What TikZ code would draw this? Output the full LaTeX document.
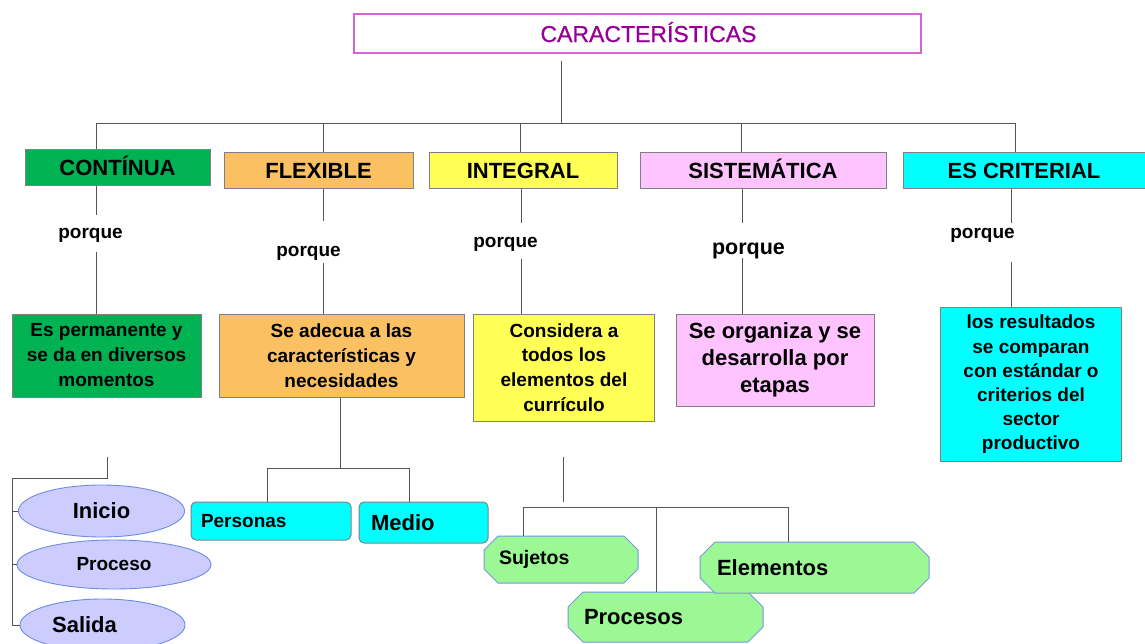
\documentclass[tikz,border=0pt]{standalone}
\usepackage{fontspec}
\setmainfont{Liberation Sans}
\newfontfamily\titlefont[FakeBold=0.7]{Liberation Sans}
\usetikzlibrary{shapes.geometric}
\definecolor{cgreen}{RGB}{0,178,82}
\definecolor{corange}{RGB}{250,192,98}
\definecolor{cyellow}{RGB}{255,255,85}
\definecolor{cpink}{RGB}{255,196,255}
\definecolor{ccyan}{RGB}{0,255,255}
\definecolor{cviolet}{RGB}{204,204,255}
\definecolor{cvioletline}{RGB}{110,140,225}
\definecolor{clgreen}{RGB}{155,248,148}
\definecolor{coctline}{RGB}{120,150,230}
\definecolor{ctitle}{RGB}{150,0,150}
\definecolor{ctitleline}{RGB}{215,100,215}
\definecolor{cline}{RGB}{85,85,85}
\newcommand\octshape[5]{%
  \filldraw[oct] ({#1-#3/2+#5},{#2-#4/2}) -- ({#1+#3/2-#5},{#2-#4/2}) --
  ({#1+#3/2},{#2-#4/2+#5}) -- ({#1+#3/2},{#2+#4/2-#5}) --
  ({#1+#3/2-#5},{#2+#4/2}) -- ({#1-#3/2+#5},{#2+#4/2}) --
  ({#1-#3/2},{#2+#4/2-#5}) -- ({#1-#3/2},{#2-#4/2+#5}) -- cycle;}
\begin{document}
\begin{tikzpicture}[x=1pt,y=-1pt,
  conn/.style={draw=cline, line width=1pt},
  boxbase/.style={draw=black!50, line width=1pt, inner sep=0pt, align=center},
  head/.style={boxbase, minimum height=36pt, text height=16pt, text depth=0pt,
    font=\bfseries\fontsize{22}{26}\selectfont},
  desc/.style={boxbase, font=\bfseries\fontsize{19}{25}\selectfont},
  why/.style={inner sep=0pt, anchor=base, font=\bfseries\fontsize{19}{22}\selectfont},
  ell/.style={ellipse, draw=cvioletline, fill=cviolet, line width=0.9pt, inner sep=0pt},
  rbox/.style={draw=black!50, fill=ccyan, line width=1pt, rounded corners=5pt, inner ysep=0pt, align=left},
  oct/.style={draw=coctline, fill=clgreen, line width=1pt},
  octtext/.style={inner ysep=0pt, align=left, font=\bfseries\fontsize{22}{26}\selectfont}
]
\useasboundingbox (0,0) rectangle (1145,643);
\clip (0,0) rectangle (1145,643);
\fill[white] (0,0) rectangle (1145,643);

% title
\node[draw=ctitleline, line width=1.2pt, minimum width=567pt, minimum height=39pt,
  inner sep=0pt, text height=17pt, text depth=0pt, text=ctitle,
  font=\titlefont\fontsize{23}{23}\selectfont] (title) at (637.5,33.5)
  {\hspace*{22pt}CARACTERÍSTICAS};

% headings
\node[head, fill=cgreen, minimum width=185pt] (h1) at (117.5,167) {CONTÍNUA};
\node[head, fill=corange, minimum width=189pt] (h2) at (318.5,170) {FLEXIBLE};
\node[head, fill=cyellow, minimum width=188pt] (h3) at (523,170) {INTEGRAL};
\node[head, fill=cpink, minimum width=246pt] (h4) at (763,170) {SISTEMÁTICA};
\node[head, fill=ccyan, minimum width=242pt] (h5) at (1024,170) {ES CRITERIAL};

% bus
\coordinate (tj) at (561,123);
\coordinate (d1) at (96,123);
\coordinate (d2) at (323,123);
\coordinate (d3) at (520,123);
\coordinate (d4) at (741,123);
\coordinate (d5) at (1015,123);
\draw[conn, shorten <=7pt] (tj |- title.south) -- (tj);
\draw[conn] (d1) -- (d5);
\draw[conn] (d1) -- (d1 |- h1.north);
\draw[conn] (d2) -- (d2 |- h2.north);
\draw[conn] (d3) -- (d3 |- h3.north);
\draw[conn] (d4) -- (d4 |- h4.north);
\draw[conn] (d5) -- (d5 |- h5.north);

% porque
\node[why] (p1) at (90.5,238) {porque};
\node[why] (p2) at (308.5,256) {porque};
\node[why] (p3) at (505.5,247) {porque};
\node[why, font=\bfseries\fontsize{21.5}{24}\selectfont] (p4) at (748.5,254.5) {porque};
\node[why] (p5) at (982.5,238) {porque};

% second row
\node[desc, fill=cgreen, minimum width=189pt, minimum height=83pt] (e1) at (106.5,355.5)
  {Es permanente y\\se da en diversos\\momentos};
\node[desc, fill=corange, minimum width=245pt, minimum height=83pt] (e2) at (341.5,355.5)
  {Se adecua a las\\características y\\necesidades};
\node[desc, fill=cyellow, minimum width=181pt, minimum height=107pt,
  font=\bfseries\fontsize{19}{24.7}\selectfont] (e3) at (564,367.5)
  {Considera a\\todos los\\elementos del\\currículo};
\node[desc, fill=cpink, minimum width=198pt, minimum height=92pt,
  font=\bfseries\fontsize{22}{27}\selectfont] (e4) at (775,360)
  {Se organiza y se\\desarrolla por\\etapas};
\node[desc, fill=ccyan, minimum width=181pt, minimum height=154pt,
  font=\bfseries\fontsize{19}{24.2}\selectfont] (e5) at (1031,384.5)
  {los resultados\\se comparan\\con estándar o\\criterios del\\sector\\productivo};

% porque connectors
\coordinate (a1) at (96,215);  \coordinate (b1) at (96,252);
\coordinate (a2) at (323,221); \coordinate (b2) at (323,263);
\coordinate (a3) at (521,223); \coordinate (b3) at (521,259);
\coordinate (a4) at (742,223); \coordinate (b4) at (742,258);
\coordinate (a5) at (1011,223); \coordinate (b5) at (1011,262);
\draw[conn] (a1 |- h1.south) -- (a1);  \draw[conn] (b1) -- (b1 |- e1.north);
\draw[conn] (a2 |- h2.south) -- (a2);  \draw[conn] (b2) -- (b2 |- e2.north);
\draw[conn] (a3 |- h3.south) -- (a3);  \draw[conn] (b3) -- (b3 |- e3.north);
\draw[conn] (a4 |- h4.south) -- (a4);  \draw[conn] (b4) -- (b4 |- e4.north);
\draw[conn] (a5 |- h5.south) -- (a5);  \draw[conn] (b5) -- (b5 |- e5.north);

% left ellipses
\node[ell, minimum width=166pt, minimum height=52pt, font=\bfseries\fontsize{22}{26}\selectfont]
  (ini) at (101.5,511) {Inicio};
\node[ell, minimum width=194pt, minimum height=49pt, font=\bfseries\fontsize{19}{22}\selectfont]
  (pro) at (114,564.5) {Proceso};
\node[ell, minimum width=165pt, minimum height=52pt, font=\bfseries\fontsize{22}{26}\selectfont]
  (sal) at (102.5,625) {Salida\hspace*{36pt}};
\coordinate (lb) at (107,457);
\coordinate (lc) at (12,478);
\draw[conn] (lb) |- (lc) -- (lc |- sal.west) -- (sal.west);
\draw[conn] (lc |- ini.west) -- (ini.west);
\draw[conn] (lc |- pro.west) -- (pro.west);

% Personas / Medio
\node[rbox, text width=140pt, inner xsep=10pt, minimum height=38pt,
  font=\bfseries\fontsize{19}{22}\selectfont] (pers) at (271,521) {Personas};
\node[rbox, text width=105pt, inner xsep=12pt, minimum height=41pt,
  font=\bfseries\fontsize{22}{26}\selectfont] (medio) at (423.5,522.5) {Medio};
\coordinate (oj) at (340,468);
\coordinate (op) at (267,468);
\coordinate (om) at (409,468);
\draw[conn] (oj |- e2.south) -- (oj);
\draw[conn] (op |- pers.north) -- (op) -- (om) -- (om |- medio.north);

% octagons
\octshape{561}{559.5}{154}{47}{14}
\node[octtext, text width=124pt, inner xsep=15pt, minimum height=47pt,
  font=\bfseries\fontsize{19.5}{22}\selectfont] (suj) at (561,559.5) {Sujetos};
\octshape{665.5}{617}{195}{50}{15}
\node[octtext, text width=163pt, inner xsep=16pt, minimum height=50pt] (proc) at (665.5,617) {Procesos};
\octshape{814.5}{567.5}{229}{51}{15}
\node[octtext, text width=195pt, inner xsep=17pt, minimum height=51pt] (elem) at (814.5,567.5) {Elementos};

\coordinate (yj) at (563,457);
\coordinate (yk) at (563,502);
\coordinate (ys) at (523,507);
\coordinate (yh) at (656,507);
\coordinate (ye) at (788,507);
\draw[conn] (yj) -- (yk);
\draw[conn] (ys |- suj.north) -- (ys) -- (ye) -- (ye |- elem.north);
\draw[conn] (yh) -- (yh |- proc.north);
\end{tikzpicture}
\end{document}
